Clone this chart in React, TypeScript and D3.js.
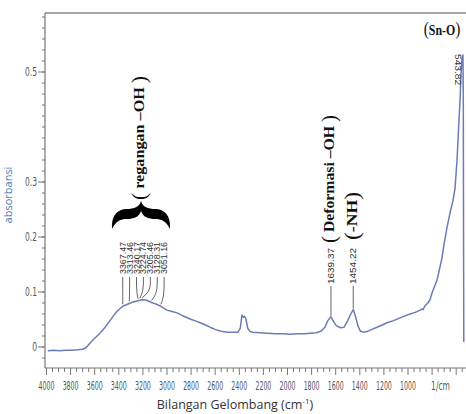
import * as d3 from "d3";

const WIDTH = 466;
const HEIGHT = 414;

// spectrum (cm-1, absorbance)
const wavenumbers = [
  3990, 3940, 3890, 3840, 3790, 3740, 3700, 3670, 3640, 3600, 3556, 3510, 3473, 3440, 3415,
  3367, 3313, 3282, 3240, 3224, 3205, 3170, 3128, 3090, 3051, 3000, 2950, 2917, 2880, 2850,
  2808, 2760, 2725, 2680, 2643, 2600, 2560, 2502, 2450, 2411, 2392, 2378, 2368, 2356, 2344,
  2330, 2310, 2290, 2230, 2171, 2100, 2037, 1980, 1921, 1860, 1813, 1760, 1720, 1690, 1665,
  1640, 1620, 1595, 1560, 1530, 1500, 1475, 1454, 1435, 1415, 1395, 1370, 1340, 1300, 1257,
  1215, 1174, 1120, 1066, 1020, 983, 940, 900, 885, 875, 859, 835, 817, 801, 780,
  759, 740, 718, 700, 676, 651, 626, 610, 593, 585, 575, 568, 560, 552, 544,
  541, 539, 537,
];
const absorbance = [
  -0.007, -0.006, -0.007, -0.006, -0.006, -0.005, -0.004, -0.001, 0.007, 0.016, 0.025, 0.037, 0.048, 0.058, 0.065,
  0.074, 0.079, 0.082, 0.084, 0.085, 0.086, 0.085, 0.081, 0.078, 0.074, 0.067, 0.064, 0.062, 0.058, 0.055,
  0.051, 0.047, 0.044, 0.04, 0.036, 0.032, 0.029, 0.027, 0.027, 0.027, 0.034, 0.058, 0.054, 0.056, 0.05,
  0.034, 0.028, 0.027, 0.026, 0.025, 0.024, 0.024, 0.023, 0.024, 0.024, 0.025, 0.026, 0.029, 0.036, 0.048,
  0.055, 0.047, 0.039, 0.035, 0.036, 0.048, 0.06, 0.068, 0.055, 0.038, 0.029, 0.027, 0.028, 0.032, 0.036,
  0.04, 0.044, 0.048, 0.053, 0.057, 0.06, 0.063, 0.067, 0.069, 0.068, 0.075, 0.08, 0.086, 0.098, 0.11,
  0.122, 0.14, 0.162, 0.188, 0.218, 0.244, 0.267, 0.288, 0.34, 0.376, 0.42, 0.449, 0.495, 0.525, 0.531,
  0.45, 0.2, 0.009,
];

const xTickValues = [4000, 3800, 3600, 3400, 3200, 3000, 2800, 2600, 2400, 2200, 2000, 1800, 1600, 1400, 1200, 1000];
const yTickValues = [0, 0.1, 0.2, 0.3, 0.5];
const yTickLabels = ["0", "0.1", "0.2", "0.3", "0.5"];

const ohPeaks = [3367.47, 3313.46, 3240.17, 3224.74, 3205.46, 3128.31, 3051.16];
const ohPeakLabels = ["3367.47", "3313.46", "3240.17", "3224.74", "3205.46", "3128.31", "3051.16"];
const otherPeaks = [1639.37, 1454.22];
const otherPeakLabels = ["1639.37", "1454.22"];
const snPeak = 543.82;

const LINE_COLOR = "#6a7cb6";
const AXIS_COLOR = "#777";
const TICK_FONT = "'Liberation Sans Narrow', 'DejaVu Sans Condensed', sans-serif";
const SERIF = "'Liberation Serif', 'DejaVu Serif', serif";

// horizontal curly brace, cusp up, drawn around (cx, top)
const bracePath = (cx: number, top: number, half: number) => {
  const l = (dx: number) => cx - dx;
  const r = (dx: number) => cx + dx;
  const b = top + 26;
  return [
    `M${l(half)},${b}`,
    `C${l(half + 1)},${top + 12} ${l(half - 6)},${top + 6} ${l(half * 0.5)},${top + 6}`,
    `C${l(7)},${top + 6} ${l(1.5)},${top + 4} ${cx},${top - 2}`,
    `C${r(1.5)},${top + 4} ${r(7)},${top + 6} ${r(half * 0.5)},${top + 6}`,
    `C${r(half - 6)},${top + 6} ${r(half + 1)},${top + 12} ${r(half)},${b}`,
    `C${r(half - 4)},${top + 18} ${r(half - 9)},${top + 16} ${r(half * 0.5)},${top + 16}`,
    `C${r(7)},${top + 16} ${r(2)},${top + 14} ${cx},${top + 8}`,
    `C${l(2)},${top + 14} ${l(7)},${top + 16} ${l(half * 0.5)},${top + 16}`,
    `C${l(half - 9)},${top + 16} ${l(half - 4)},${top + 18} ${l(half)},${b}`,
    "Z",
  ].join(" ");
};

const App = () => {
  const x = d3.scaleLinear().domain([4000, 1000]).range([46.5, 408]);
  const y = d3.scaleLinear().domain([0, 0.5]).range([347, 72]);

  const left = 45;
  const top = 13;
  const bottom = 368;

  const data = wavenumbers.map((w, i) => ({ w, a: absorbance[i] }));
  const line = d3
    .line<{ w: number; a: number }>()
    .x((d) => x(d.w))
    .y((d) => y(d.a));

  const absAt = (w: number) => {
    const i = wavenumbers.findIndex((v) => v <= w);
    if (i <= 0) return absorbance[0];
    const t = (wavenumbers[i - 1] - w) / (wavenumbers[i - 1] - wavenumbers[i]);
    return absorbance[i - 1] + t * (absorbance[i] - absorbance[i - 1]);
  };

  const xMinor = d3.range(4000, 400, -50);
  const yMinor = d3.range(-0.04, 0.62, 0.02).filter((v) => y(v) <= bottom - 2 && y(v) >= top + 3);

  const ohLabelX = ohPeaks.map((_, i) => x(ohPeaks[0]) + i * 6.9);

  return (
    <svg width={WIDTH} height={HEIGHT} style={{ position: "absolute", left: 0, top: 0, background: "#fff" }}>
      {/* frame */}
      <line x1={left} x2={WIDTH} y1={top} y2={top} stroke="#888" strokeWidth={1.6} />
      <line x1={left} x2={left} y1={top} y2={bottom} stroke={AXIS_COLOR} strokeWidth={1.2} />
      <line x1={left} x2={WIDTH} y1={bottom} y2={bottom} stroke={AXIS_COLOR} strokeWidth={1.2} />

      {/* y ticks */}
      {yMinor.map((v, i) => (
        <line key={"ym" + i} x1={left - 3} x2={left} y1={y(v)} y2={y(v)} stroke={AXIS_COLOR} strokeWidth={1} />
      ))}
      {yTickValues.map((v, i) => (
        <g key={"yt" + i}>
          <line x1={left - 7} x2={left} y1={y(v)} y2={y(v)} stroke={AXIS_COLOR} strokeWidth={1} />
          <text
            transform={`translate(37,${y(v)}) scale(0.7,1)`}
            dy="0.35em"
            textAnchor="end"
            fontFamily={TICK_FONT}
            fontSize={12}
            fill="#555"
          >
            {yTickLabels[i]}
          </text>
        </g>
      ))}

      {/* x ticks */}
      {xMinor.map((v, i) => (
        <line
          key={"xm" + i}
          x1={x(v)}
          x2={x(v)}
          y1={bottom}
          y2={bottom + (v % 200 === 0 ? 7 : 4)}
          stroke={AXIS_COLOR}
          strokeWidth={1}
        />
      ))}
      {xTickValues.map((v) => (
        <text
          key={"xt" + v}
          transform={`translate(${x(v)},390) scale(0.58,1)`}
          textAnchor="middle"
          fontFamily={TICK_FONT}
          fontSize={12}
          fill="#555"
        >
          {v}
        </text>
      ))}
      <text
        transform={`translate(${x(730)},390) scale(0.7,1)`}
        textAnchor="middle"
        fontFamily={TICK_FONT}
        fontSize={12}
        fill="#555"
      >
        1/cm
      </text>

      {/* axis titles */}
      <text
        x={235}
        y={409}
        textAnchor="middle"
        fontFamily="'Open Sans', sans-serif"
        fontSize={12.5}
        fill="#333"
      >
        Bilangan Gelombang (cm
        <tspan dy={-5} fontSize={8}>
          -1
        </tspan>
        <tspan dy={5}>)</tspan>
      </text>
      <text
        transform="translate(12,195) rotate(-90)"
        textAnchor="middle"
        fontFamily="'Open Sans', sans-serif"
        fontSize={11}
        fill="#4a7ebb"
      >
        absorbansi
      </text>

      {/* spectrum */}
      <path d={line(data) || ""} fill="none" stroke={LINE_COLOR} strokeWidth={1.5} strokeLinejoin="round" />

      {/* O-H stretching peak labels */}
      {ohPeaks.map((p, i) => {
        const lx = ohLabelX[i];
        const px = x(p);
        const py = y(absAt(p)) - 2;
        return (
          <g key={"oh" + i}>
            <path
              d={`M${lx},277 L${lx},284 Q${lx},${py - 6} ${px},${py}`}
              fill="none"
              stroke="#555"
              strokeWidth={0.9}
            />
            <text
              transform={`translate(${lx},274) rotate(-90)`}
              dy="0.35em"
              fontFamily="'Liberation Sans', sans-serif"
              fontSize={8.5}
              fill="#333"
              textLength={32}
              lengthAdjust="spacingAndGlyphs"
            >
              {ohPeakLabels[i]}
            </text>
          </g>
        );
      })}

      {otherPeaks.map((p, i) => {
        const px = x(p);
        const py = y(absAt(p)) - 1;
        return (
          <g key={"op" + i}>
            <line x1={px} x2={px} y1={286} y2={py} stroke="#555" strokeWidth={0.9} />
            <text
              transform={`translate(${px},284) rotate(-90)`}
              dy="0.35em"
              fontFamily="'Liberation Sans', sans-serif"
              fontSize={8.5}
              fill="#333"
              textLength={36}
              lengthAdjust="spacingAndGlyphs"
            >
              {otherPeakLabels[i]}
            </text>
          </g>
        );
      })}

      <text
        transform={`translate(${x(snPeak) - 5},54) rotate(90) scale(1.2,1)`}
        dy="0.35em"
        fontFamily="'Liberation Sans', sans-serif"
        fontSize={8.5}
        fill="#333"
      >
        {snPeak.toFixed(2)}
      </text>

      {/* group annotations */}
      <path d={bracePath(141, 203, 29)} fill="#000" />
      <text
        transform="translate(139,138) rotate(-90)"
        textAnchor="middle"
        dominantBaseline="central"
        fontFamily={SERIF}
        fontWeight="bold"
        fontSize={15}
        fill="#111"
        textLength={124}
        lengthAdjust="spacingAndGlyphs"
      >
        <tspan fontSize={20} fontWeight="normal">(</tspan> regangan –OH <tspan fontSize={20} fontWeight="normal">)</tspan>
      </text>
      <text
        transform="translate(329,179) rotate(-90)"
        textAnchor="middle"
        dominantBaseline="central"
        fontFamily={SERIF}
        fontWeight="bold"
        fontSize={15}
        fill="#111"
        textLength={128}
        lengthAdjust="spacingAndGlyphs"
      >
        <tspan fontSize={20} fontWeight="normal">(</tspan> Deformasi –OH <tspan fontSize={20} fontWeight="normal">)</tspan>
      </text>
      <text
        transform="translate(352,216) rotate(-90)"
        textAnchor="middle"
        dominantBaseline="central"
        fontFamily={SERIF}
        fontWeight="bold"
        fontSize={15}
        fill="#111"
        textLength={48}
        lengthAdjust="spacingAndGlyphs"
      >
        <tspan fontSize={20} fontWeight="normal">(</tspan>-NH<tspan fontSize={20} fontWeight="normal">)</tspan>
      </text>
      <text
        transform="translate(442,35) scale(0.85,1)"
        textAnchor="middle"
        fontFamily={SERIF}
        fontWeight="bold"
        fontSize={14}
        fill="#111"
      >
        <tspan fontSize={18} fontWeight="normal">(</tspan>Sn-O<tspan fontSize={18} fontWeight="normal">)</tspan>
      </text>
    </svg>
  );
};

export default App;
